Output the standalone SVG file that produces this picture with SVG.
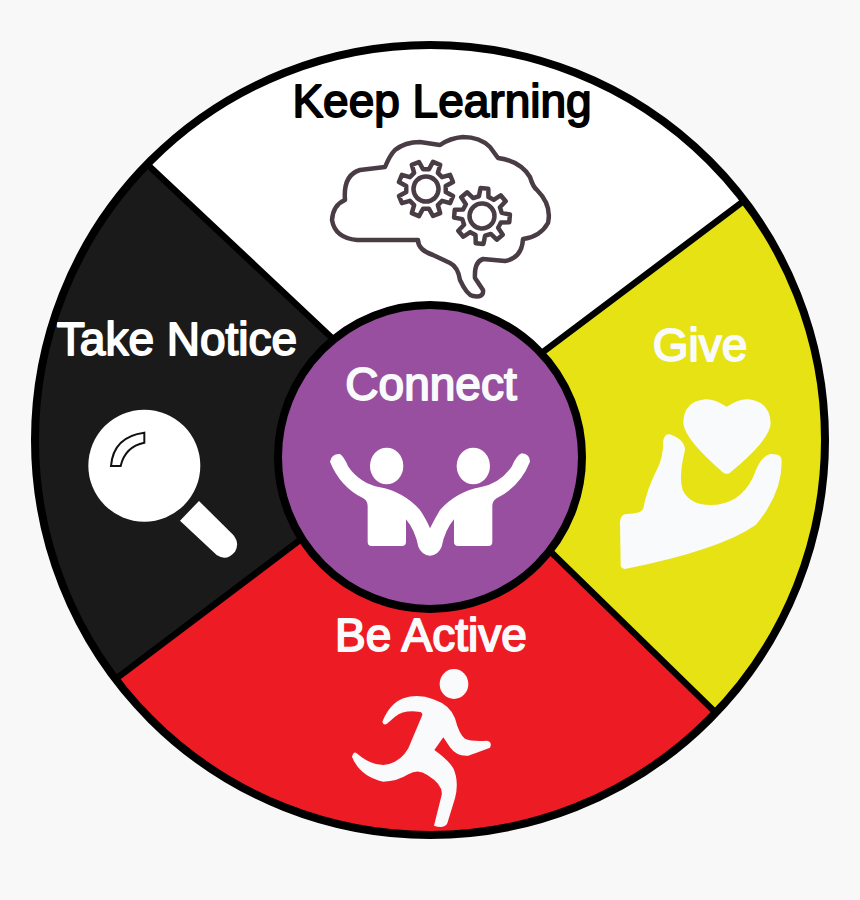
<svg xmlns="http://www.w3.org/2000/svg" width="860" height="900" viewBox="0 0 860 900">
<style>
.lbl{font-family:"Liberation Sans",Arial,sans-serif;font-weight:400;font-size:46px;text-anchor:middle;stroke-width:1.8;stroke-linejoin:round}
.ln{stroke:#000;stroke-width:6.5;fill:none}
.ring{stroke:#000;stroke-width:8;fill:none}
.ic{fill:#f9fafc}
.br{fill:none;stroke:#4a3c45;stroke-width:4.5;stroke-linejoin:round}
</style>
<defs>
<g id="gear">
<polygon points="19.4,-4.8 27.7,-3.9 27.7,3.9 19.4,4.8 17.1,10.3 22.3,16.8 16.8,22.3 10.3,17.1 4.8,19.4 3.9,27.7 -3.9,27.7 -4.8,19.4 -10.3,17.1 -16.8,22.3 -22.3,16.8 -17.1,10.3 -19.4,4.8 -27.7,3.9 -27.7,-3.9 -19.4,-4.8 -17.1,-10.3 -22.3,-16.8 -16.8,-22.3 -10.3,-17.1 -4.8,-19.4 -3.9,-27.7 3.9,-27.7 4.8,-19.4 10.3,-17.1 16.8,-22.3 22.3,-16.8 17.1,-10.3"/>
<circle r="12.5"/>
</g>
</defs>
<rect width="860" height="900" fill="#f8f8f8"/>
<g id="keep-learning">
<path d="M148 165A395 395 0 0 1 745 200L543 352L332 338Z" fill="#fff"/>
<text class="lbl" x="442" y="117" fill="#000" stroke="#000">Keep Learning</text>
<path class="br" d="M385 167Q390 155 395 150Q405 142 420 142L440 145Q450 138 463 137Q480 137 490 147L498 158Q520 161 530 177Q533 187 537 190Q552 205 548 223Q540 237 523 239Q522 258 505 261L483 259Q474 262 475 278L483 290Q484 298 473 296Q467 295 460 280Q458 267 450 263L433 255Q418 250 418 240L357 240Q335 238 332 220Q333 205 345 200Q343 175 360 170Z"/>
<use href="#gear" class="br" transform="translate(426 189) rotate(22.5)"/>
<use href="#gear" class="br" transform="translate(482 216) rotate(5)"/>
</g>
<g id="take-notice">
<path d="M148 165A395 395 0 0 0 117 678L300 540L332 338Z" fill="#1a1a1a"/>
<text class="lbl" x="177" y="355" fill="#fff" stroke="#fff">Take Notice</text>
<g transform="translate(80 400) scale(.3333)">
<circle cx="193" cy="197" r="168" fill="#fff"/>
<path d="M357 303L460 405Q480 430 465 455Q440 485 410 465L300 362Z" fill="#fff"/>
<path d="M193 98L193 128Q135 140 122 198L93 198Q100 110 193 98Z" fill="#fff" stroke="#111" stroke-width="6"/>
</g>
</g>
<g id="give">
<path d="M745 200A395 395 0 0 1 715 712L552 553L543 352Z" fill="#e6e214"/>
<text class="lbl" x="700" y="361" fill="#f9fafc" stroke="#f9fafc">Give</text>
<g class="ic" transform="translate(610 390) scale(.3333)">
<path d="M350 50Q310 25 285 28Q220 35 220 100Q225 150 340 248Q350 255 360 248Q480 150 482 100Q480 35 415 28Q390 25 350 50Z"/>
<path d="M160 150Q165 130 180 133Q225 150 225 180Q205 260 218 300Q240 345 300 345Q390 345 430 260Q450 200 480 192Q515 190 515 210Q518 310 437 405Q330 480 45 537Q30 535 32 520L30 395Q32 372 50 372Q95 372 100 355Q110 300 140 240Q160 205 160 150Z"/>
</g>
</g>
<g id="be-active">
<path d="M117 678A395 395 0 0 0 715 712L552 553L300 540Z" fill="#ed1c24"/>
<text class="lbl" x="431" y="651" fill="#f9fafc" stroke="#f9fafc">Be Active</text>
<g class="ic" transform="translate(340 660) scale(.3333)">
<ellipse cx="342" cy="72" rx="43" ry="45"/>
<path d="M127 185Q150 130 190 115Q235 100 280 118Q330 135 345 175Q358 225 375 236Q395 245 440 242Q458 245 450 263Q405 280 385 287Q350 290 330 262L310 232L283 270Q325 300 340 325Q358 365 345 415L322 490Q312 508 282 497L305 405Q310 375 262 345Q235 325 205 343Q170 365 130 365Q60 350 36 290Q42 272 50 280Q90 315 130 315Q180 310 205 265L247 165Q247 155 235 155Q190 150 165 170L140 192Q130 197 127 185Z"/>
</g>
</g>
<g id="connectors">
<circle class="ring" cx="430" cy="440" r="395"/>
<path class="ln" d="M148 165L332 338M745 200L543 352M117 678L300 540M715 712L552 553"/>
</g>
<g id="connect">
<circle cx="430" cy="457" r="152" fill="#994f9f" stroke="#000" stroke-width="8"/>
<text class="lbl" x="431" y="400" fill="#f9fafc" stroke="#f9fafc">Connect</text>
<g fill="#fff" transform="translate(320 430) scale(.3333)">
<ellipse cx="200" cy="108" rx="50" ry="55"/>
<ellipse cx="460" cy="108" rx="50" ry="55"/>
<path d="M30 95Q35 70 60 72Q72 80 85 110Q120 160 180 172Q250 185 300 240Q320 270 330 295Q345 265 360 240Q410 185 480 172Q540 160 575 110Q590 75 605 70Q630 72 630 95Q600 170 530 205Q517 212 517 230L517 335Q517 348 505 348L415 348Q402 348 402 335L402 268Q375 300 365 350Q355 375 330 377Q305 375 295 350Q285 300 258 268L258 335Q258 348 245 348L155 348Q143 348 143 335L143 230Q143 212 130 205Q60 170 30 95Z"/>
</g>
</g>
</svg>
